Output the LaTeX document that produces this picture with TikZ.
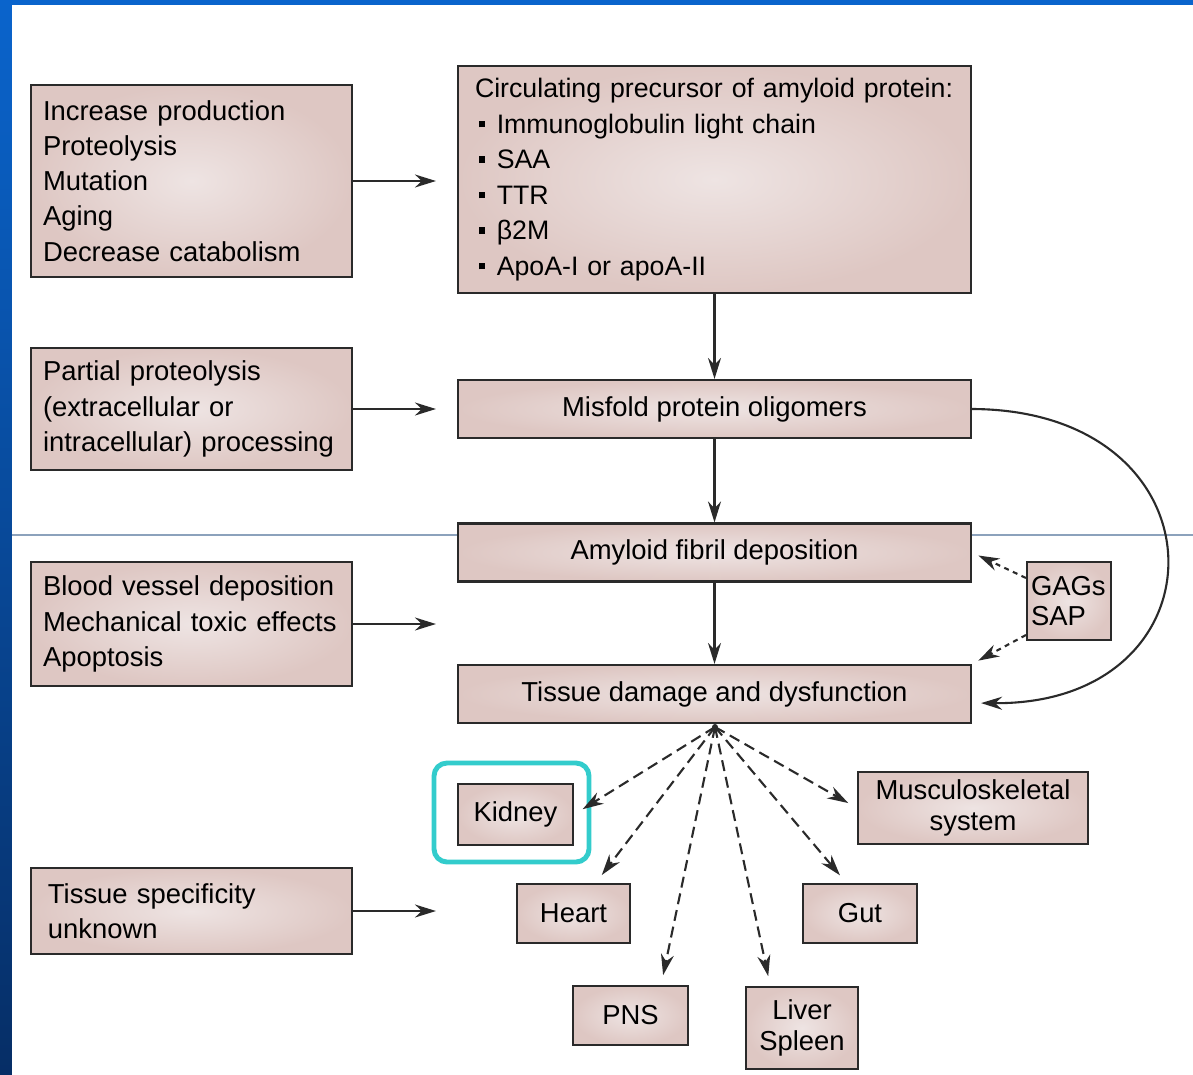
\documentclass[tikz,border=0pt]{standalone}
\usepackage{fontspec}
\setmainfont{Liberation Sans}
\usetikzlibrary{arrows.meta, positioning, calc}
\definecolor{binner}{RGB}{238,228,227}
\definecolor{bouter}{RGB}{222,199,195}
\definecolor{bline}{HTML}{2A2A2A}
\definecolor{slidetop}{HTML}{0A64CC}
\definecolor{slidebot}{HTML}{062E66}
\definecolor{hilite}{HTML}{33CCCC}
\definecolor{ruleblue}{HTML}{8CA2BC}
\newcommand{\sqbul}{\hspace*{1pt}\rule[0.22em]{1.8pt}{1.8pt}\hspace{3.4pt}}
\hyphenpenalty=10000
\tikzset{
  pinkbox/.style={draw=bline, inner color=binner, outer color=bouter, line width=0.6pt, inner ysep=0pt,
                  font=\fontsize{7.8}{10}\selectfont},
  lbox/.style={pinkbox, align=left, inner xsep=0.12cm, text width=2.97cm},
  cbox/.style={pinkbox, align=center, inner xsep=0pt, minimum width=5.13cm, minimum height=0.58cm},
  obox/.style={pinkbox, align=center, inner xsep=0pt, minimum height=0.59cm},
  arr/.style={-{Stealth[length=2.1mm,width=1.3mm]}, line width=0.6pt, bline},
  darr/.style={arr, dash pattern=on 1.1mm off 0.6mm, shorten >=1mm},
  dotarr/.style={arr, dash pattern=on 0.5mm off 0.45mm, shorten >=0.7mm},
}

\begin{document}
\begin{tikzpicture}
  \useasboundingbox (0,0) rectangle (11.93,-10.74);

  %% slide frame
  \fill[top color=slidetop, bottom color=slidebot] (0,0) rectangle (0.12,-10.74);
  \fill[slidetop] (0,0) rectangle (11.93,-0.05);
  \draw[ruleblue, line width=0.4pt] (0.12,-5.35) -- (11.93,-5.35);

  %% Left column: causes
  \node[lbox, minimum height=1.92cm] (incr) at (1.915,-1.81)
    {Increase production\\Proteolysis\\Mutation\\Aging\\Decrease catabolism};
  \node[lbox, minimum height=1.22cm] (partial) at (1.915,-4.09)
    {Partial proteolysis\\(extracellular or\\intracellular) processing};
  \node[lbox, minimum height=1.24cm] (vessel) at (1.915,-6.24)
    {Blood vessel deposition\\Mechanical toxic effects\\Apoptosis};
  \node[lbox, inner xsep=0.17cm, text width=2.87cm, minimum height=0.86cm] (spec) at (1.915,-9.11)
    {Tissue specificity\\unknown};

  %% Main column
  \node[pinkbox, align=left, inner xsep=0.17cm, text width=4.79cm, minimum height=2.27cm,
        font=\fontsize{7.6}{10.1}\selectfont] (prec) at (7.145,-1.795)
    {\mbox{Circulating precursor of amyloid protein:}\\
     \sqbul Immunoglobulin light chain\\
     \sqbul SAA\\
     \sqbul TTR\\
     \sqbul β2M\\
     \sqbul ApoA-I or apoA-II};
  \node[cbox] (misfold) at (7.145,-4.09) {Misfold protein oligomers};
  \node[cbox] (fibril) at (7.145,-5.525) {Amyloid fibril deposition};
  \node[cbox] (damage) at (7.145,-6.94) {Tissue damage and dysfunction};

  %% GAGs / SAP
  \node[pinkbox, align=left, inner xsep=0.04cm, text width=0.76cm, minimum height=0.78cm,
        font=\fontsize{7.8}{8.6}\selectfont] (gags) at (10.69,-6.01) {GAGs\\SAP};

  %% Organs
  \node[obox, minimum width=1.15cm, minimum height=0.61cm] (kidney) at (5.155,-8.145) {Kidney};
  \node[obox, minimum width=2.30cm, minimum height=0.72cm, font=\fontsize{7.8}{9}\selectfont] (musc) at (9.73,-8.08)
    {Musculoskeletal\\system};
  \node[obox, minimum width=1.13cm] (heart) at (5.735,-9.135) {Heart};
  \node[obox, minimum width=1.14cm] (gut) at (8.60,-9.135) {Gut};
  \node[obox, minimum width=1.15cm] (pns) at (6.305,-10.155) {PNS};
  \node[obox, minimum width=1.12cm, minimum height=0.82cm, font=\fontsize{7.8}{9}\selectfont] (liver) at (8.02,-10.28)
    {Liver\\Spleen};

  %% highlight round kidney
  \node[draw=hilite, line width=1.4pt, rounded corners=0.13cm, minimum width=1.55cm, minimum height=0.99cm,
        inner sep=0pt] (kidhi) at (5.115,-8.125) {};

  %% Arrows from the left
  \draw[arr, shorten >=2.1mm] (incr.east) -- (incr.east -| prec.west);
  \draw[arr, shorten >=2.1mm] (partial.east) -- (partial.east -| prec.west);
  \draw[arr, shorten >=2.1mm] (vessel.east) -- (vessel.east -| prec.west);
  \draw[arr, shorten >=2.1mm] (spec.east) -- (spec.east -| prec.west);

  %% Main flow
  \draw[arr] (prec.south) -- (misfold.north);
  \draw[arr] (misfold.south) -- (fibril.north);
  \draw[arr] (fibril.south) -- (damage.north);
  \draw[arr, shorten >=0.9mm] (misfold.east) .. controls (12.3,-4.10) and (12.3,-7.05) .. ([yshift=-0.9mm]damage.east);

  %% GAGs SAP
  \draw[dotarr] ([yshift=2.3mm]gags.west) -- (fibril.east);
  \draw[dotarr] ([yshift=-3.4mm]gags.west) -- (damage.north east);

  %% Fan out to organs
  \coordinate (hub) at (7.15,-7.27);
  \fill[bline] (hub) circle (0.03);
  \draw[darr] (hub) -- (kidney.east);
  \draw[darr] (hub) -- (heart.54);
  \draw[darr] (hub) -- (pns.45);
  \draw[darr] (hub) -- (liver.127);
  \draw[darr] (hub) -- (gut.114);
  \draw[darr] (hub) -- (musc.west);

\end{tikzpicture}
\end{document}
